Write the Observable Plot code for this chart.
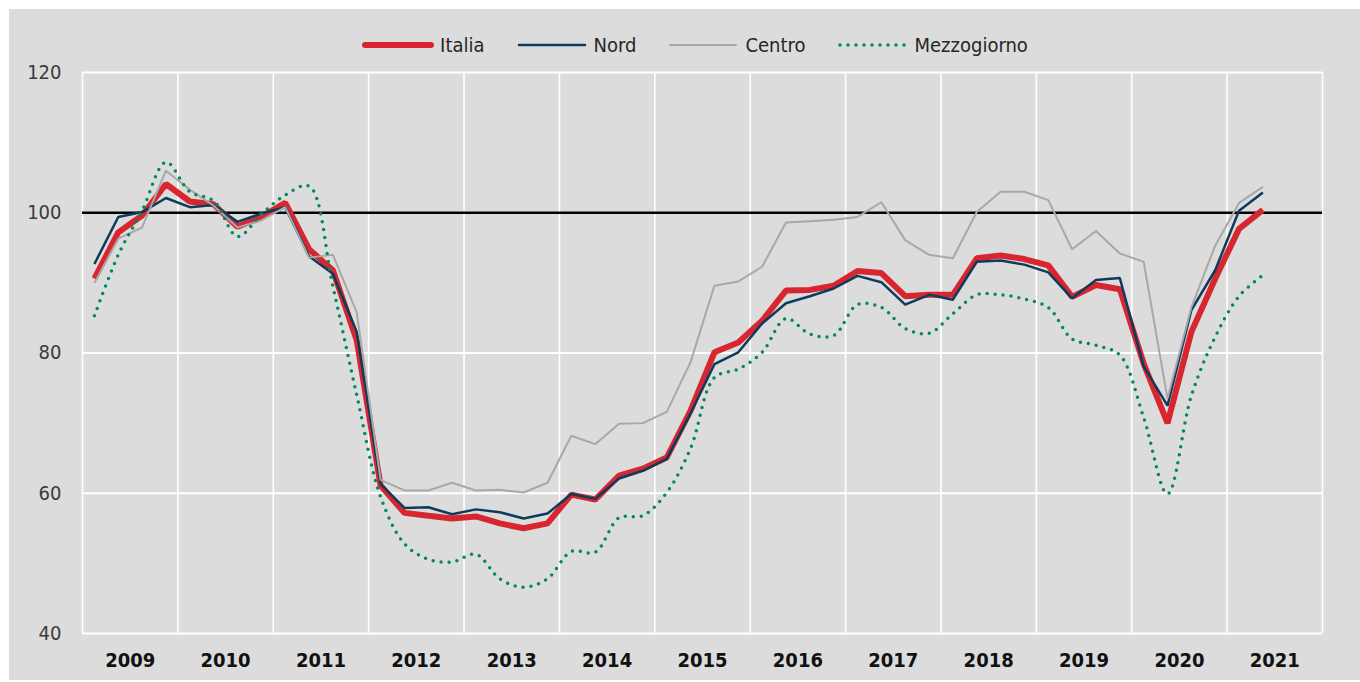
<!DOCTYPE html>
<html><head><meta charset="utf-8">
<script src="https://cdn.jsdelivr.net/npm/d3@7"></script>
<script src="https://cdn.jsdelivr.net/npm/@observablehq/plot@0.6"></script>
<style>
body{margin:0;background:#fff;}
#wrap{position:absolute;left:9px;top:9px;width:1351px;height:671px;background:#dcdcdc;font-family:"Liberation Sans Narrow","Arial Narrow","DejaVu Sans Condensed",sans-serif;}
#legend{position:absolute;top:24px;left:0;width:100%;display:flex;justify-content:center;align-items:center;font-size:20px;color:#262626;padding-left:20px;box-sizing:border-box;line-height:24px}
.item{display:flex;align-items:center;margin:0 15px}
.item svg{margin-right:5px}
#chart{position:absolute;left:0;top:50px}
</style></head>
<body>
<div id="wrap"><div id="legend"></div><div id="chart"></div></div>
<script>
const periods = [
 "2009Q1","2009Q2","2009Q3","2009Q4","2010Q1","2010Q2","2010Q3","2010Q4",
 "2011Q1","2011Q2","2011Q3","2011Q4","2012Q1","2012Q2","2012Q3","2012Q4",
 "2013Q1","2013Q2","2013Q3","2013Q4","2014Q1","2014Q2","2014Q3","2014Q4",
 "2015Q1","2015Q2","2015Q3","2015Q4","2016Q1","2016Q2","2016Q3","2016Q4",
 "2017Q1","2017Q2","2017Q3","2017Q4","2018Q1","2018Q2","2018Q3","2018Q4",
 "2019Q1","2019Q2","2019Q3","2019Q4","2020Q1","2020Q2","2020Q3","2020Q4",
 "2021Q1","2021Q2"];
const years = [2009,2010,2011,2012,2013,2014,2015,2016,2017,2018,2019,2020,2021];
const yearEdges = [2009,2010,2011,2012,2013,2014,2015,2016,2017,2018,2019,2020,2021,2022];
const yTicks = [40,60,80,100,120];

const italia = [90.6,97.2,99.6,104.1, 101.6,101.2,98.0,99.4, 101.4,94.8,91.8,81.8,
 61.1,57.2,56.8,56.4, 56.7,55.7,55.0,55.7, 59.8,59.1,62.5,63.5, 65.1,71.8,80.1,81.5,
 84.6,88.9,89.0,89.6, 91.7,91.4,88.1,88.3, 88.3,93.5,93.9,93.4, 92.5,88.0,89.7,89.1,
 78.5,70.0,83.0,90.6, 97.7,100.4];
const nord = [92.7,99.4,100.1,102.1, 100.8,101.1,98.7,99.9, 100.8,93.8,91.3,83.0,
 61.3,57.9,58.0,57.0, 57.7,57.3,56.4,57.1, 59.9,59.2,62.1,63.2, 64.9,71.4,78.4,80.1,
 84.2,87.1,88.1,89.2, 91.0,90.1,86.9,88.3, 87.6,93.0,93.2,92.6, 91.5,87.8,90.4,90.7,
 78.1,72.5,86.1,91.8, 100.3,102.9];
const centro = [90.0,96.3,97.9,106.0, 103.3,101.0,97.9,98.9, 100.8,93.6,94.0,85.8,
 61.9,60.4,60.4,61.5, 60.4,60.5,60.1,61.5, 68.2,67.0,69.9,70.0, 71.6,78.7,89.6,90.2,
 92.3,98.6,98.8,99.0, 99.4,101.5,96.1,94.0, 93.5,100.1,103.0,103.0, 101.8,94.8,97.4,94.2,
 93.0,73.5,86.5,95.3, 101.4,103.7];
const mezzogiorno = [85.3,94.0,100.3,107.2, 103.0,101.7,96.6,99.8, 102.5,103.8,89.5,74.0,
 59.5,52.8,50.6,50.2, 51.3,47.8,46.6,47.8, 51.7,51.6,56.5,56.8, 60.1,66.4,76.5,77.7,
 80.1,84.9,82.7,82.5, 86.9,86.5,83.5,82.8, 85.6,88.3,88.3,87.7, 86.5,82.0,81.1,79.7,
 70.8,59.9,73.9,82.3, 88.1,91.1];

const seriesNames = ["Italia","Nord","Centro","Mezzogiorno"];
const seriesValues = [italia, nord, centro, mezzogiorno];
const styles = {
  Italia: {stroke:"#d7262f", strokeWidth:6, curve:"linear"},
  Nord: {stroke:"#0d3b5e", strokeWidth:2.5, curve:"linear"},
  Centro: {stroke:"#a8a8a8", strokeWidth:2, curve:"linear"},
  Mezzogiorno: {stroke:"#00895c", strokeWidth:3.5, strokeDasharray:"0 8", strokeLinecap:"round", curve:"catmull-rom"}
};

const t = p => +p.slice(0,4) + (+p.slice(5) - 0.5) / 4;
const lineData = seriesNames.map((name, k) => periods.map((p, i) => ({t: t(p), v: seriesValues[k][i], name})));

// legend
const legend = document.getElementById("legend");
seriesNames.forEach(name => {
  const s = styles[name];
  const item = document.createElement("div");
  item.className = "item";
  item.innerHTML = `<svg width="74" height="12"><line x1="4" x2="70" y1="6" y2="6" stroke="${s.stroke}" stroke-width="${s.strokeWidth}" stroke-linecap="round" ${s.strokeDasharray ? `stroke-dasharray="${s.strokeDasharray}"` : ""}/></svg><span>${name}</span>`;
  legend.appendChild(item);
});

const font = '"Liberation Sans Narrow","Arial Narrow","DejaVu Sans Condensed",sans-serif';
const chart = Plot.plot({
  width: 1351, height: 621,
  marginTop: 13, marginBottom: 47, marginLeft: 73, marginRight: 38,
  style: {background: "transparent", fontFamily: font, fontSize: "20px", overflow: "visible"},
  x: {domain: [2009, 2022], axis: null},
  y: {domain: [40, 120], axis: null},
  marks: [
    Plot.ruleX(yearEdges, {stroke: "#fff", strokeWidth: 1.6}),
    Plot.ruleY([40, 60, 80, 120], {stroke: "#fff", strokeWidth: 2.2}),
    Plot.ruleY([100], {stroke: "#000", strokeWidth: 2.5}),
    Plot.axisY({ticks: yTicks, tickSize: 0, tickPadding: 21, fontSize: 20, fill: "#3a3a3a", label: null}),
    Plot.text(years, {x: d => d + 0.5, y: () => 40, dy: 27, text: d => String(d), fontSize: 20, fontWeight: "bold", fill: "#111"}),
    ...lineData.map((data, k) => {
      const s = styles[seriesNames[k]];
      return Plot.line(data, {x: "t", y: "v", stroke: s.stroke, strokeWidth: s.strokeWidth,
        strokeDasharray: s.strokeDasharray, strokeLinecap: s.strokeLinecap || "butt", strokeLinejoin: "miter", curve: s.curve});
    })
  ]
});
document.getElementById("chart").appendChild(chart);
</script>
</body></html>
